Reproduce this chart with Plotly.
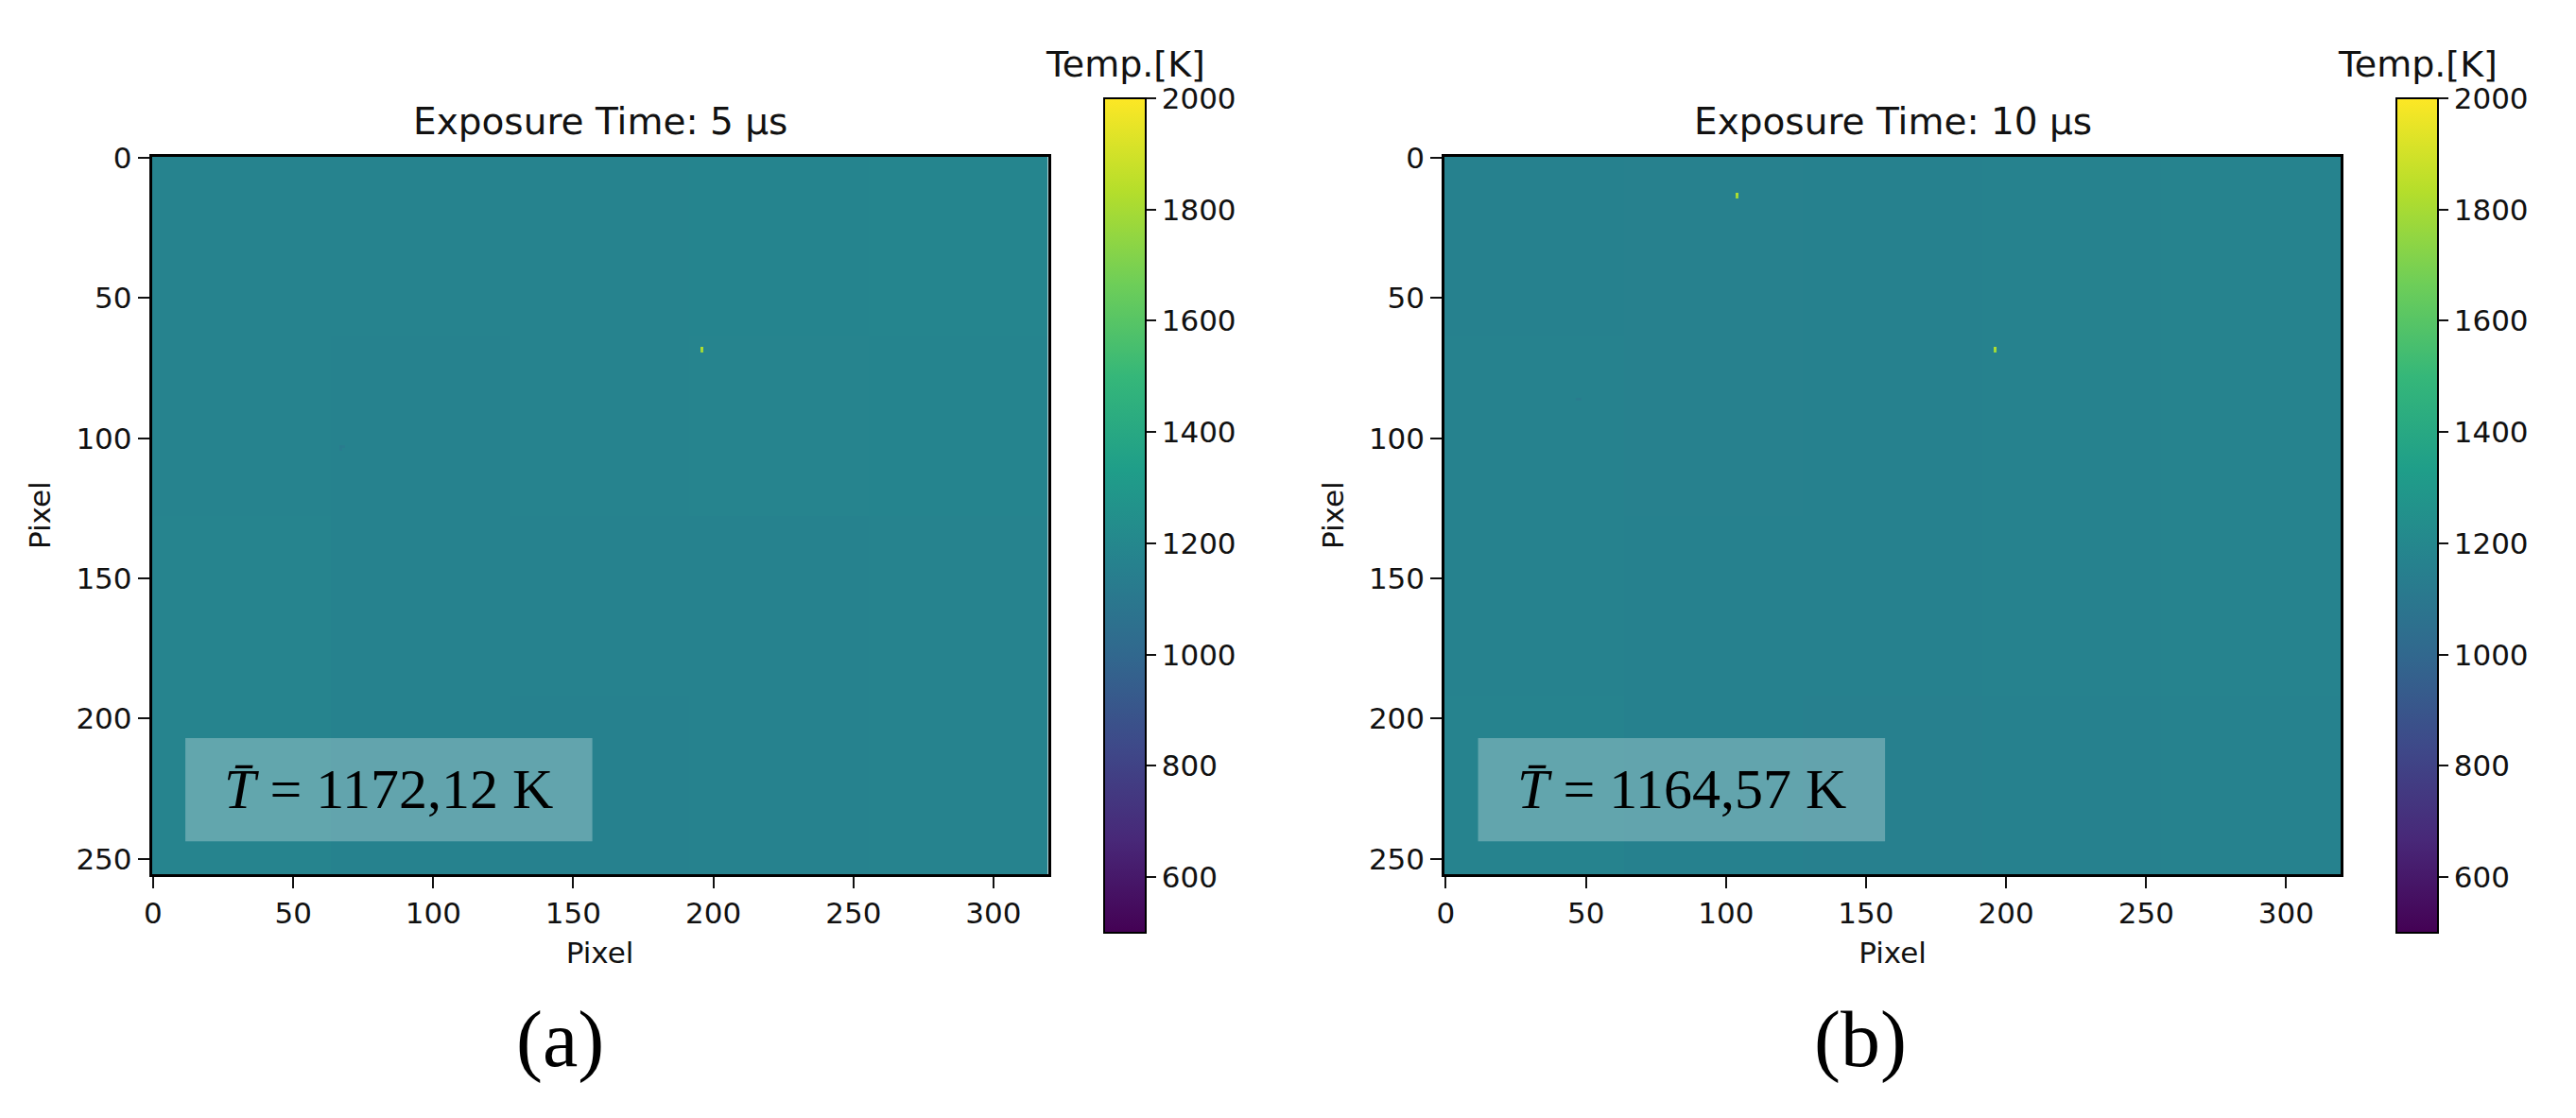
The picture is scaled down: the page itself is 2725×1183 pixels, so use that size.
import numpy as np
import plotly.graph_objects as go

# ---------------- data ----------------
n_rows, n_cols = 256, 320            # sensor size (pixels)
block = 64                           # coarse block size of the estimated background
x_ticks = [0, 50, 100, 150, 200, 250, 300]
y_ticks = [0, 50, 100, 150, 200, 250]
cbar_ticks = [600, 800, 1000, 1200, 1400, 1600, 1800, 2000]
z_min, z_max = 500, 2000

titles = ["Exposure Time: 5 µs", "Exposure Time: 10 µs"]
panel_labels = ["(a)", "(b)"]
mean_labels = ["1172,12", "1164,57"]

# estimated background temperature [K] per 64x64 block (rows top->bottom)
bg_a = [[1172, 1170, 1172, 1180, 1182],
        [1174, 1168, 1170, 1176, 1180],
        [1176, 1168, 1166, 1168, 1174],
        [1176, 1168, 1162, 1164, 1172]]
bg_b = [[1160, 1158, 1160, 1166, 1170],
        [1164, 1158, 1160, 1166, 1172],
        [1168, 1160, 1160, 1164, 1170],
        [1170, 1162, 1156, 1160, 1168]]

# individual pixels (column, row, temperature)
pixels_a = [(196, 68, 1820), (196, 69, 1780),
            (67, 103, 1120), (68, 103, 1125), (67, 104, 1125)]
pixels_b = [(104, 13, 1820), (104, 14, 1780),
            (196, 68, 1820), (196, 69, 1780),
            (47, 86, 1125), (48, 86, 1128)]

# ---------------- build images ----------------
def build(bg, pix):
    z = np.kron(np.array(bg, dtype=float), np.ones((block, block)))
    for c, r, v in pix:
        z[r, c] = v
    return z.round(1)

images = [build(bg_a, pixels_a), build(bg_b, pixels_b)]

W, H = 2725, 1183
def px(xp):
    return xp / W
def py(yp):
    return 1 - yp / H

# plot boxes in screen pixels (left, right, top, bottom)
boxes = [(160.5, 1108.7, 165.5, 925.0), (1528.0, 2476.2, 165.5, 925.0)]
cbar_left = [1168, 2535]
cbar_top, cbar_bot = 104, 987
label_x = [592, 1968]

fig = go.Figure()
tick_font = dict(family="DejaVu Sans", size=31, color="#111111")

for i, z in enumerate(images):
    L, R, T, B = boxes[i]
    xa = "x" if i == 0 else "x2"
    ya = "y" if i == 0 else "y2"
    fig.add_trace(go.Heatmap(
        z=z, x=np.arange(n_cols), y=np.arange(n_rows),
        colorscale="Viridis", zmin=z_min, zmax=z_max,
        xaxis=xa, yaxis=ya, hoverinfo="skip",
        colorbar=dict(
            x=px(cbar_left[i]), xanchor="left", xpad=0, ypad=0,
            y=py((cbar_top + cbar_bot) / 2), yanchor="middle",
            lenmode="pixels", len=cbar_bot - cbar_top,
            thicknessmode="pixels", thickness=44,
            outlinewidth=2, outlinecolor="black",
            tickvals=cbar_ticks, ticks="outside", ticklen=10,
            tickwidth=2, tickcolor="#111111", tickfont=tick_font,
        ),
    ))

    axis_common = dict(showline=True, linecolor="black", linewidth=2.5, mirror=True,
                       ticks="outside", ticklen=12, tickwidth=2, tickcolor="#111111",
                       tickfont=tick_font, showgrid=False, zeroline=False)
    xkey = "xaxis" if i == 0 else "xaxis2"
    ykey = "yaxis" if i == 0 else "yaxis2"
    fig.update_layout(**{
        xkey: dict(domain=[px(L), px(R)], range=[-0.5, n_cols - 0.5],
                   tickvals=x_ticks, anchor=ya,
                   title=dict(text="Pixel", font=tick_font, standoff=15),
                   **axis_common),
        ykey: dict(domain=[py(B), py(T)], range=[n_rows - 0.5, -0.5],
                   tickvals=y_ticks, anchor=xa,
                   title=dict(text="Pixel", font=tick_font, standoff=18),
                   **axis_common),
    })

    # subplot title
    fig.add_annotation(text=titles[i], xref="paper", yref="paper",
                       x=px((L + R) / 2), y=py(129), xanchor="center", yanchor="middle",
                       showarrow=False, font=dict(family="DejaVu Sans", size=39, color="#111111"))
    # colorbar title
    fig.add_annotation(text="Temp.[K]", xref="paper", yref="paper",
                       x=px(cbar_left[i] + 22), y=py(68), xanchor="center", yanchor="middle",
                       showarrow=False, font=dict(family="DejaVu Sans", size=38, color="#111111"))
    # panel label
    fig.add_annotation(text=panel_labels[i], xref="paper", yref="paper",
                       x=px(label_x[i]), y=py(1100), xanchor="center", yanchor="middle",
                       showarrow=False, font=dict(family="Liberation Serif", size=84, color="black"))
    # mean temperature box
    fig.add_shape(type="rect", xref=xa, yref=ya, x0=11.5, x1=156.8, y0=207.0, y1=243.8,
                  fillcolor="rgba(255,255,255,0.28)", line=dict(width=0), layer="above")
    fig.add_annotation(text="<i>T\u0304</i> = " + mean_labels[i] + " K", xref=xa, yref=ya,
                       x=84.2, y=225.2, xanchor="center", yanchor="middle", showarrow=False,
                       font=dict(family="Liberation Serif", size=60, color="black"))

fig.update_layout(width=W, height=H,
                  margin=dict(l=0, r=0, t=0, b=0, pad=0, autoexpand=False),
                  paper_bgcolor="white", plot_bgcolor="white", showlegend=False)

fig.write_html("out.html", config={"displayModeBar": False},
               post_script="document.body.style.margin='0px';")
